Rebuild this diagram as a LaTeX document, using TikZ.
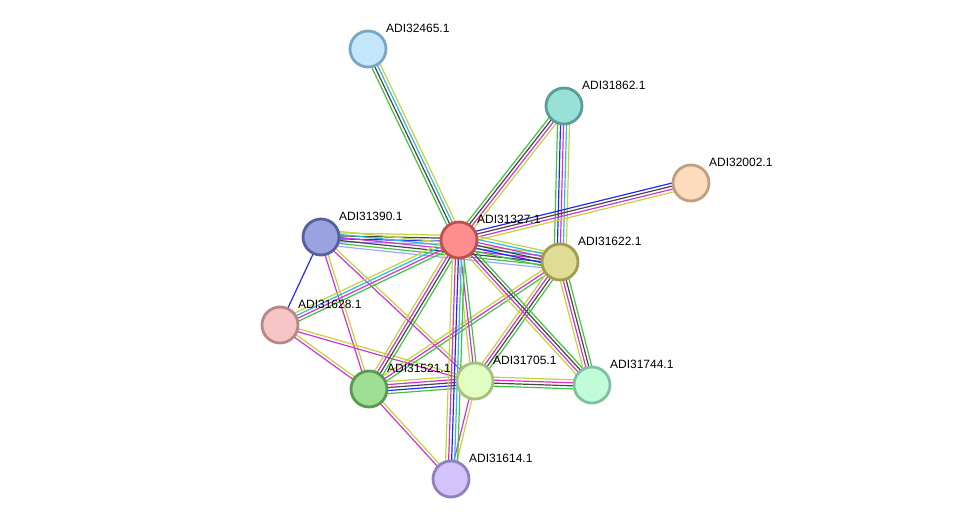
\documentclass[tikz,border=0pt]{standalone}
\usepackage{fontspec}
\setmainfont{Liberation Sans}
\usepackage{tikz}
\usetikzlibrary{calc,backgrounds}
% evidence channels
\definecolor{evGreen}{RGB}{62,196,62}
\definecolor{evBlue}{RGB}{40,40,245}
\definecolor{evBlack}{RGB}{70,70,70}
\definecolor{evMagenta}{RGB}{210,50,210}
\definecolor{evCyan}{RGB}{45,185,225}
\definecolor{evYellow}{RGB}{196,210,60}
\definecolor{evLavender}{RGB}{165,165,250}
% proteins
\definecolor{pBlue}{RGB}{196,230,251}
\definecolor{pTeal}{RGB}{153,224,214}
\definecolor{pPeach}{RGB}{253,220,189}
\definecolor{pRed}{RGB}{255,143,143}
\definecolor{pIndigo}{RGB}{154,163,223}
\definecolor{pOlive}{RGB}{222,220,150}
\definecolor{pPink}{RGB}{246,197,197}
\definecolor{pGreen}{RGB}{158,222,149}
\definecolor{pLime}{RGB}{226,254,195}
\definecolor{pMint}{RGB}{192,252,216}
\definecolor{pViolet}{RGB}{212,195,250}
\definecolor{sBlue}{RGB}{122,166,196}
\definecolor{sTeal}{RGB}{88,158,150}
\definecolor{sPeach}{RGB}{192,160,128}
\definecolor{sRed}{RGB}{192,80,80}
\definecolor{sIndigo}{RGB}{85,96,160}
\definecolor{sOlive}{RGB}{160,156,80}
\definecolor{sPink}{RGB}{184,136,136}
\definecolor{sGreen}{RGB}{90,154,80}
\definecolor{sLime}{RGB}{166,192,128}
\definecolor{sMint}{RGB}{128,192,160}
\definecolor{sViolet}{RGB}{144,128,192}
\tikzset{
  protein/.style={circle,line width=1.4pt,minimum size=18pt,inner sep=0pt},
  protein label/.style={anchor=south west,inner sep=0.5pt,xshift=1.5pt,yshift=0.5pt,font=\fontsize{6}{7}\selectfont,text=black},
  evidence/.style={line width=0.6pt}
}
% parallel coloured lines between two proteins
\newcommand{\evlink}[3]{%
  \foreach \ev [count=\k] in {#3} {\xdef\evcount{\k}}%
  \foreach \ev [count=\k] in {#3} {%
    \pgfmathsetmacro{\evoff}{(\k-(\evcount+1)/2)*1.5}%
    \draw[evidence,draw=\ev] ($(#1)!\evoff pt!90:(#2)$) -- ($(#2)!\evoff pt!-90:(#1)$);
  }%
}

\begin{document}
\begin{tikzpicture}[x=0.5pt,y=-0.5pt]
  \useasboundingbox (0,0) rectangle (975,525);
  \node[protein,fill=pBlue,draw=sBlue,label={[protein label]north east:ADI32465.1}] (adi32465) at (368,49) {};
  \node[protein,fill=pTeal,draw=sTeal,label={[protein label]north east:ADI31862.1}] (adi31862) at (564,106) {};
  \node[protein,fill=pPeach,draw=sPeach,label={[protein label]north east:ADI32002.1}] (adi32002) at (691,183) {};
  \node[protein,fill=pRed,draw=sRed,label={[protein label]north east:ADI31327.1}] (adi31327) at (459,240) {};
  \node[protein,fill=pIndigo,draw=sIndigo,label={[protein label]north east:ADI31390.1}] (adi31390) at (321,237) {};
  \node[protein,fill=pOlive,draw=sOlive,label={[protein label]north east:ADI31622.1}] (adi31622) at (560,262) {};
  \node[protein,fill=pPink,draw=sPink,label={[protein label]north east:ADI31628.1}] (adi31628) at (280,325) {};
  \node[protein,fill=pGreen,draw=sGreen,label={[protein label]north east:ADI31521.1}] (adi31521) at (369,389) {};
  \node[protein,fill=pLime,draw=sLime,label={[protein label]north east:ADI31705.1}] (adi31705) at (475,381) {};
  \node[protein,fill=pMint,draw=sMint,label={[protein label]north east:ADI31744.1}] (adi31744) at (592,385) {};
  \node[protein,fill=pViolet,draw=sViolet,label={[protein label]north east:ADI31614.1}] (adi31614) at (451,479) {};
  \begin{scope}[on background layer]
    \evlink{adi32465}{adi31327}{evGreen,evBlack,evCyan,evYellow}
    \evlink{adi31862}{adi31327}{evGreen,evBlack,evMagenta,evYellow}
    \evlink{adi31862}{adi31622}{evGreen,evBlue,evMagenta,evCyan,evYellow}
    \evlink{adi32002}{adi31327}{evBlue,evBlack,evMagenta,evYellow}
    \evlink{adi31390}{adi31327}{evLavender,evBlue,evBlack,evYellow}
    \evlink{adi31390}{adi31622}{evLavender,evGreen,evBlack,evMagenta,evCyan,evYellow}
    \evlink{adi31327}{adi31622}{evGreen,evBlue,evBlack,evMagenta,evCyan,evYellow}
    \evlink{adi31390}{adi31628}{evBlue}
    \evlink{adi31390}{adi31521}{evMagenta,evYellow}
    \evlink{adi31390}{adi31705}{evMagenta,evYellow}
    \evlink{adi31628}{adi31327}{evGreen,evMagenta,evCyan,evYellow}
    \evlink{adi31628}{adi31521}{evMagenta,evYellow}
    \evlink{adi31628}{adi31705}{evMagenta,evYellow}
    \evlink{adi31521}{adi31327}{evGreen,evBlack,evMagenta,evYellow}
    \evlink{adi31521}{adi31622}{evGreen,evMagenta,evYellow}
    \evlink{adi31521}{adi31705}{evGreen,evBlue,evBlack,evMagenta,evYellow}
    \evlink{adi31521}{adi31614}{evMagenta,evYellow}
    \evlink{adi31705}{adi31327}{evGreen,evMagenta,evYellow}
    \evlink{adi31705}{adi31622}{evGreen,evBlack,evMagenta,evYellow}
    \evlink{adi31705}{adi31744}{evGreen,evBlack,evMagenta,evYellow}
    \evlink{adi31705}{adi31614}{evMagenta,evYellow}
    \evlink{adi31614}{adi31327}{evGreen,evCyan,evBlue,evMagenta,evYellow}
    \evlink{adi31744}{adi31327}{evGreen,evBlack,evMagenta,evYellow}
    \evlink{adi31744}{adi31622}{evGreen,evBlack,evMagenta,evYellow}
  \end{scope}
\end{tikzpicture}
\end{document}
